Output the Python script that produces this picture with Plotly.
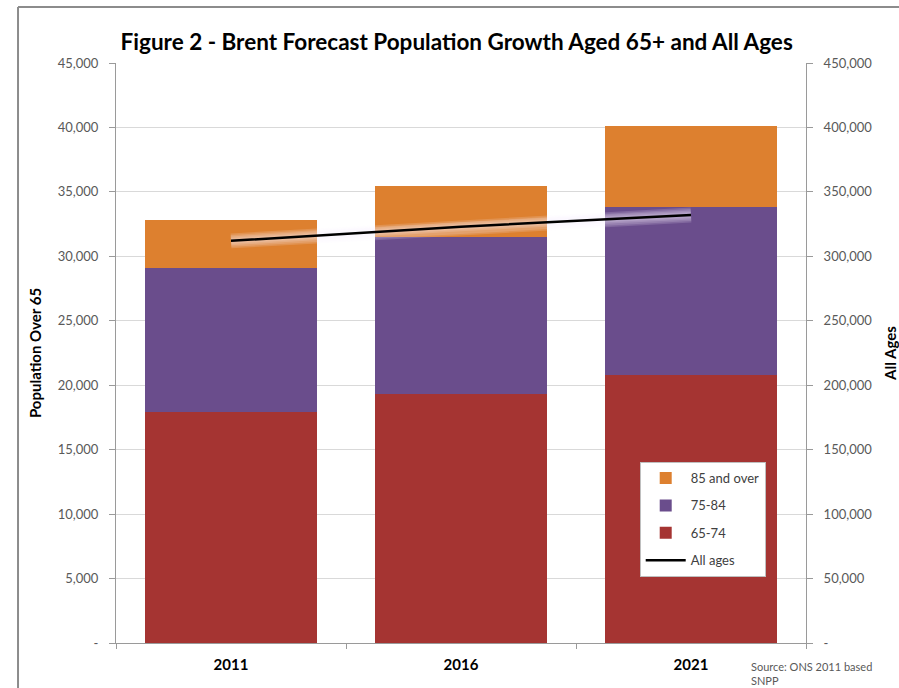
import plotly.graph_objects as go

# Brent population projections
years = ["2011", "2016", "2021"]
age_65_74 = [17950, 19300, 20800]
age_75_84 = [11150, 12200, 13000]
age_85_plus = [3700, 3950, 6300]
all_ages = [312000, 323000, 332000]

left_ticks = [0, 5000, 10000, 15000, 20000, 25000, 30000, 35000, 40000, 45000]
left_labels = ["-", "5,000", "10,000", "15,000", "20,000", "25,000", "30,000", "35,000", "40,000", "45,000"]
right_ticks = [0, 50000, 100000, 150000, 200000, 250000, 300000, 350000, 400000, 450000]
right_labels = ["-", "50,000", "100,000", "150,000", "200,000", "250,000", "300,000", "350,000", "400,000", "450,000"]

FONT = "Lato, Calibri, sans-serif"
RED = "rgb(165,52,50)"
PURPLE = "rgb(106,77,140)"
ORANGE = "rgb(221,128,47)"

fig = go.Figure()

fig.add_trace(go.Bar(x=years, y=age_65_74, name="65-74", marker=dict(color=RED, line=dict(width=0)),
                     legendrank=3, legendgroup="c"))
fig.add_trace(go.Bar(x=years, y=age_75_84, name="75-84", marker=dict(color=PURPLE, line=dict(width=0)),
                     legendrank=2, legendgroup="b"))
fig.add_trace(go.Bar(x=years, y=age_85_plus, name="85 and over", marker=dict(color=ORANGE, line=dict(width=0)),
                     legendrank=1, legendgroup="a"))

# soft halo under the all-ages line, built from stacked translucent strokes
for w in [15, 12, 9, 6]:
    fig.add_trace(go.Scatter(x=years, y=all_ages, yaxis="y2", mode="lines", showlegend=False,
                             hoverinfo="skip", line=dict(color="rgba(250,245,255,0.16)", width=w)))
fig.add_trace(go.Scatter(x=years, y=all_ages, yaxis="y2", mode="lines", name="All ages",
                         line=dict(color="black", width=2.5), legendrank=4, legendgroup="d"))

fig.update_layout(
    width=899, height=688,
    margin=dict(l=116, r=93, t=63, b=45),
    paper_bgcolor="white", plot_bgcolor="white",
    barmode="stack", bargap=0.25,
    font=dict(family=FONT, size=13, color="#595959"),
    title=dict(text="<b>Figure 2 - Brent Forecast Population Growth Aged 65+ and All Ages</b>",
               x=0.508, xanchor="center", y=0.939, yanchor="middle",
               font=dict(family=FONT, size=22.5, color="black")),
    xaxis=dict(showgrid=False, showline=True, linecolor="#9a9a9a", linewidth=1,
               ticks="outside", tickson="boundaries", ticklen=5, tickcolor="#9a9a9a",
               ticklabelstandoff=8, automargin=False,
               tickfont=dict(family=FONT, size=15, color="black"),
               tickprefix="<b>", ticksuffix="</b>"),
    yaxis=dict(range=[0, 45000], tickvals=left_ticks, ticktext=left_labels,
               showgrid=True, gridcolor="#d9d9d9", gridwidth=1,
               showline=True, linecolor="#9a9a9a", linewidth=1,
               ticks="outside", ticklen=6, tickcolor="#9a9a9a",
               ticklabelstandoff=8, automargin=False,
               tickfont=dict(family=FONT, size=13, color="#595959"),
               title=dict(text="<b>Population Over 65</b>", font=dict(family=FONT, size=15, color="black"),
                          standoff=12),
               zeroline=False),
    yaxis2=dict(range=[0, 450000], tickvals=right_ticks, ticktext=right_labels,
                overlaying="y", side="right", showgrid=False,
                showline=True, linecolor="#9a9a9a", linewidth=1,
                ticks="outside", ticklen=6, tickcolor="#9a9a9a",
                ticklabelstandoff=8, automargin=False,
                tickfont=dict(family=FONT, size=13, color="#595959"),
                title=dict(text="<b>All Ages</b>", font=dict(family=FONT, size=15, color="black"),
                           standoff=16),
                zeroline=False),
    legend=dict(x=0.759, y=0.312, xanchor="left", yanchor="top",
                bgcolor="white", bordercolor="#bfbfbf", borderwidth=1,
                traceorder="grouped", tracegroupgap=7.5, itemwidth=40,
                font=dict(family=FONT, size=13, color="#404040")),
    annotations=[
        dict(text="Source: ONS 2011 based<br>SNPP", xref="paper", yref="paper",
             x=0.918, y=-0.025, xanchor="left", yanchor="top", showarrow=False, align="left",
             font=dict(family=FONT, size=11, color="#595959")),
    ],
    shapes=[
        dict(type="line", xref="paper", yref="paper", x0=-0.142, x1=1.2, y0=1.0966, y1=1.0966,
             line=dict(color="#8c8c8c", width=2)),
        dict(type="line", xref="paper", yref="paper", x0=-0.142, x1=-0.142, y0=1.0966, y1=-0.1,
             line=dict(color="#8c8c8c", width=2)),
    ],
)

fig.write_html("out.html")
